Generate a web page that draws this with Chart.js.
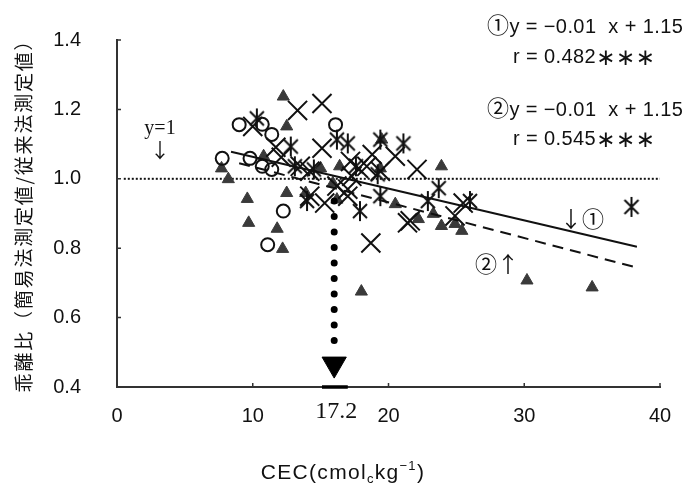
<!DOCTYPE html>
<html>
<head>
<meta charset="utf-8">
<script src="https://cdn.jsdelivr.net/npm/chart.js@4.4.1/dist/chart.umd.min.js"></script>
<style>
  body { margin: 0; background: #fff; }
  #wrap { width: 686px; height: 487px; }
</style>
</head>
<body>
<div id="wrap"><canvas id="mycanvas" width="686" height="487"></canvas></div>
<script>
// axis ticks
var xTicks = [0, 10, 20, 30, 40];
var yTicks = [0.4, 0.6, 0.8, 1.0, 1.2, 1.4];

// open circles
var cecCircle   = [9.0, 10.7, 11.4, 7.75, 9.8, 10.7, 11.4, 12.25, 11.1, 16.1];
var ratioCircle = [1.156, 1.157, 1.128, 1.059, 1.059, 1.036, 1.027, 0.907, 0.810, 1.156];

// crosses
var cecCross   = [13.3, 15.1, 10.0, 11.7, 12.1, 15.1, 18.8, 17.8, 19.4, 20.5, 14.2, 15.3, 17.0, 18.7, 21.4, 22.1, 21.6, 24.9, 25.5, 13.5, 14.2, 17.3, 18.4, 16.2, 17.2, 17.0];
var ratioCross = [1.197, 1.217, 1.151, 1.091, 1.062, 1.088, 1.070, 1.030, 1.022, 1.065, 1.022, 0.930, 0.950, 0.815, 0.873, 1.027, 0.879, 0.893, 0.930, 1.036, 0.950, 1.007, 1.036, 0.979, 1.050, 0.970];

// asterisks
var cecStar   = [10.3, 12.8, 13.1, 16.2, 19.4, 21.1, 17.0, 14.0, 17.9, 19.4, 23.7, 22.9, 26.0, 37.9, 14.5, 17.6, 19.2];
var ratioStar = [1.174, 1.093, 1.036, 1.113, 1.113, 1.102, 1.102, 0.936, 0.907, 0.950, 0.973, 0.936, 0.936, 0.919, 1.027, 1.036, 1.013];

// filled triangles
var cecTri   = [12.25, 12.5, 7.7, 8.2, 9.6, 9.7, 11.8, 12.2, 12.5, 10.8, 13.9, 15.0, 16.4, 19.5, 19.4, 15.9, 16.2, 20.5, 23.9, 22.2, 23.3, 23.9, 24.9, 25.4, 18.0, 30.2, 35.0];
var ratioTri = [1.237, 1.151, 1.030, 0.999, 0.942, 0.873, 0.856, 0.798, 0.959, 1.065, 0.959, 1.030, 1.036, 1.113, 1.030, 0.987, 0.940, 0.927, 1.036, 0.884, 0.899, 0.864, 0.870, 0.850, 0.675, 0.707, 0.687];

// regression lines (end points)
var fit1X = [8.4, 38.3];
var fit1Y = [1.078, 0.804];
var fit2X = [9.0, 38.3];
var fit2Y = [1.045, 0.744];

// y = 1 reference
var refX = [0.5, 40];
var refY = [1.0, 1.0];

// arrow down to CEC 17.2
var arrowX = 16.0;
var arrowY = [0.936, 0.53];
var arrowTipY = 0.466;
var arrowLabel = '17.2';
var markX = [15.1, 17.0];

function pts(xs, ys) {
	var out = [];
	for (var i in xs) {
		out.push({x: xs[i], y: ys[i]});
	}
	return out;
}

// asterisk marker (x with a vertical bar)
var star = document.createElement('canvas');
star.width = 22; star.height = 22;
var sc = star.getContext('2d');
sc.strokeStyle = '#111';
sc.lineWidth = 2;
sc.beginPath();
sc.moveTo(11, 1); sc.lineTo(11, 21);
sc.moveTo(4, 4); sc.lineTo(18, 18);
sc.moveTo(18, 4); sc.lineTo(4, 18);
sc.stroke();

var SANS = '"Liberation Sans", Arial, sans-serif';
var JP = '"Noto Sans CJK JP", sans-serif';
var SERIF = '"Liberation Serif", "DejaVu Serif", serif';

// draws a row of [text, font, dy] pieces starting at x (or centered on it)
function drawRun(ctx, pieces, x, y, center, spacing) {
	var total = 0;
	ctx.letterSpacing = (spacing || 0) + 'px';
	pieces.forEach(function(p) { ctx.font = p[1]; p.w = ctx.measureText(p[0]).width; total += p.w; });
	var cx = center ? x - total / 2 : x;
	ctx.textAlign = 'left';
	pieces.forEach(function(p) { ctx.font = p[1]; ctx.fillText(p[0], cx, y + (p[2] || 0)); cx += p.w; });
	ctx.letterSpacing = '0px';
}

var decor = {
	id: 'decor',
	afterDraw: function(chart) {
		var ctx = chart.ctx;
		var x = chart.scales.x, y = chart.scales.y;
		ctx.save();
		// inward tick marks
		ctx.strokeStyle = '#333';
		ctx.lineWidth = 1.5;
		ctx.beginPath();
		yTicks.forEach(function(v) {
			var py = y.getPixelForValue(v);
			ctx.moveTo(x.left, py); ctx.lineTo(x.left + 4, py);
		});
		xTicks.forEach(function(v) {
			var px = x.getPixelForValue(v);
			ctx.moveTo(px, y.bottom); ctx.lineTo(px, y.bottom - 4);
		});
		ctx.stroke();

		ctx.fillStyle = '#111';
		ctx.textBaseline = 'alphabetic';

		// y title
		ctx.save();
		ctx.translate(31, 211);
		ctx.rotate(-Math.PI / 2);
		ctx.textAlign = 'center';
		ctx.font = '19px ' + JP;
		ctx.letterSpacing = '1.8px';
		ctx.fillText('乖離比（簡易法測定値/従来法測定値）', 0, 0);
		ctx.restore();

		// x title with subscript and superscript
		drawRun(ctx, [
			['CEC(cmol', '21px ' + SANS],
			['c', '13px ' + SANS, 4],
			['kg', '21px ' + SANS],
			['−1', '13px ' + SANS, -9],
			[')', '21px ' + SANS]
		], 343, 479, true, 1.3);

		// equations
		var eqFont = '20px ' + SANS;
		var circFont = '22px ' + JP;
		var starFont = '23px "DejaVu Sans"';
		drawRun(ctx, [['①', circFont], ['y = −0.01  x + 1.15', eqFont]], 487, 33, false, 0.4);
		drawRun(ctx, [['②', circFont], ['y = −0.01  x + 1.15', eqFont]], 487, 116, false, 0.4);
		drawRun(ctx, [['r = 0.482', eqFont], ['∗∗∗', starFont, 2]], 584, 63, true, 0.4);
		drawRun(ctx, [['r = 0.545', eqFont], ['∗∗∗', starFont, 2]], 584, 145, true, 0.4);

		// line labels
		ctx.textAlign = 'center';
		ctx.font = '22px ' + JP;
		ctx.fillText('↓①', 582, 227);
		ctx.fillText('②↑', 497, 272);

		// y=1 label
		ctx.font = '20px ' + SERIF;
		ctx.fillText('y=1', 160, 134);
		ctx.font = '20px ' + JP;
		ctx.fillText('↓', 160, 158);

		// 17.2
		ctx.font = '24px ' + SERIF;
		ctx.fillText(arrowLabel, x.getPixelForValue(arrowX) + 2, 418);
		ctx.restore();
	}
};

var ctx = document.getElementById('mycanvas');
var chart = new Chart(ctx, {
	type: 'scatter',
	data: {
		datasets: [
			{ data: pts(refX, refY), showLine: true, pointRadius: 0, borderColor: '#111', borderWidth: 2, borderDash: [2, 2], order: 9 },
			{ data: pts(fit1X, fit1Y), showLine: true, pointRadius: 0, borderColor: '#111', borderWidth: 2, order: 1 },
			{ data: pts(fit2X, fit2Y), showLine: true, pointRadius: 0, borderColor: '#111', borderWidth: 2, borderDash: [11, 7], order: 1 },
			{ data: pts(cecTri, ratioTri), pointStyle: 'triangle', pointRadius: 7, backgroundColor: '#3a3a3a', borderColor: '#3a3a3a', borderWidth: 1, order: 5 },
			{ data: pts(cecCircle, ratioCircle), pointStyle: 'circle', pointRadius: 6.5, backgroundColor: 'rgba(0,0,0,0)', borderColor: '#111', borderWidth: 2, order: 4 },
			{ data: pts(cecCross, ratioCross), pointStyle: 'crossRot', pointRadius: 13.5, borderColor: '#111', borderWidth: 2, order: 3 },
			{ data: pts(cecStar, ratioStar), pointStyle: star, pointRadius: 11, order: 2 },
			{ data: pts([arrowX, arrowX], arrowY), showLine: true, pointRadius: 0, borderColor: '#000', borderWidth: 7, borderDash: [0, 15.5], borderCapStyle: 'round', order: 0 },
			{ data: pts([arrowX], [arrowTipY]), pointStyle: 'triangle', rotation: 180, pointRadius: 14, backgroundColor: '#000', borderColor: '#000', borderWidth: 1, order: 0 },
			{ data: pts(markX, [0.4, 0.4]), showLine: true, pointRadius: 0, borderColor: '#000', borderWidth: 3.5, order: 0 }
		]
	},
	options: {
		responsive: false,
		animation: false,
		clip: false,
		layout: { padding: { top: 38, right: 26, left: 0, bottom: 0 } },
		plugins: { legend: { display: false }, tooltip: { enabled: false } },
		scales: {
			x: {
				type: 'linear', min: 0, max: 40,
				afterFit: function(s) { s.height = 100; },
				afterBuildTicks: function(s) { s.ticks = xTicks.map(function(v) { return {value: v}; }); },
				grid: { display: false },
				border: { display: true, color: '#333', width: 2 },
				ticks: { padding: 9, color: '#111', font: { size: 20, family: SANS } }
			},
			y: {
				type: 'linear', min: 0.4, max: 1.4,
				afterFit: function(s) { s.width = 117; },
				afterBuildTicks: function(s) { s.ticks = yTicks.map(function(v) { return {value: v}; }); },
				grid: { display: false },
				border: { display: true, color: '#333', width: 2 },
				ticks: { padding: 28, color: '#111', font: { size: 20, family: SANS },
					callback: function(v) { return v.toFixed(1); } }
			}
		}
	},
	plugins: [decor]
});
</script>
</body>
</html>
